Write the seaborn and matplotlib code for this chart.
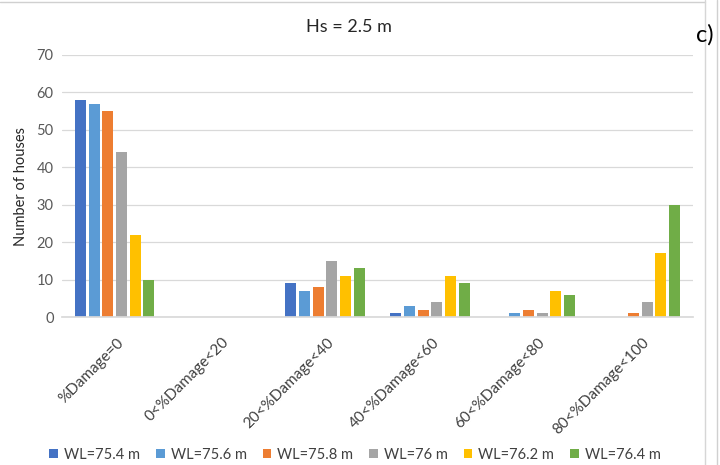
import matplotlib
matplotlib.use("Agg")
import matplotlib.pyplot as plt
import matplotlib.transforms as mtransforms
import seaborn as sns
import pandas as pd
from matplotlib.patches import Patch
from matplotlib.lines import Line2D

categories = ["%Damage=0", "0<%Damage<20", "20<%Damage<40", "40<%Damage<60",
              "60<%Damage<80", "80<%Damage<100"]
series = ["WL=75.4 m", "WL=75.6 m", "WL=75.8 m", "WL=76 m", "WL=76.2 m", "WL=76.4 m"]
wl_754 = [58, 0, 9, 1, 0, 0]
wl_756 = [57, 0, 7, 3, 1, 0]
wl_758 = [55, 0, 8, 2, 2, 1]
wl_760 = [44, 0, 15, 4, 1, 4]
wl_762 = [22, 0, 11, 11, 7, 17]
wl_764 = [10, 0, 13, 9, 6, 30]
colors = ["#4472C4", "#5B9BD5", "#ED7D31", "#A5A5A5", "#FFC000", "#70AD47"]

rows = []
for s, vals in zip(series, [wl_754, wl_756, wl_758, wl_760, wl_762, wl_764]):
    for c, v in zip(categories, vals):
        rows.append({"cat": c, "series": s, "value": v})
df = pd.DataFrame(rows)

sns.set_theme(style="white")
plt.rcParams['font.family'] = ['Lato', 'DejaVu Sans']

fig = plt.figure(figsize=(7.2, 4.65), dpi=100)
ax = fig.add_axes([62/720, 1 - 317/465, (693-62)/720, (317-55)/465])

sns.barplot(data=df, x="cat", y="value", hue="series", order=categories,
            hue_order=series, palette=colors, width=0.78, gap=0.2,
            saturation=1, ax=ax, legend=False, linewidth=0)

ax.set_ylim(0, 70)
ax.set_xlim(-0.5, 5.5)
ax.set_yticks(range(0, 71, 10))
ax.yaxis.grid(True, color="#D9D9D9", linewidth=0.9)
ax.set_axisbelow(True)
for sp in ["top", "right", "left"]:
    ax.spines[sp].set_visible(False)
ax.spines["bottom"].set_color("#D9D9D9")
ax.tick_params(axis="both", length=0, labelsize=10.5, colors="#595959", pad=6)
ax.set_xlabel("")
ax.set_ylabel("Number of houses", fontsize=10.5, color="#262626", labelpad=6)
ax.set_xticks(range(len(categories)))
ax.set_xticklabels(categories, rotation=45, ha="right", va="top",
                   rotation_mode="anchor", fontsize=11, color="#404040")
shift = mtransforms.ScaledTranslation(2/100, -10/100, fig.dpi_scale_trans)
for lab in ax.get_xticklabels():
    lab.set_transform(lab.get_transform() + shift)

fig.text(349/720, 1 - 27/465, "Hs = 2.5 m", ha="center", va="center",
         fontsize=13, color="#262626")
fig.text(705/720, 1 - 35/465, "c)", ha="center", va="center",
         fontsize=17, color="#000000")

# frame lines
fig.add_artist(Line2D([0, 705/720], [1 - 2/465, 1 - 2/465], color="#D0D0D0", lw=1,
                      transform=fig.transFigure, zorder=0))
fig.add_artist(Line2D([705/720, 705/720], [0, 1], color="#D6D6D6", lw=1,
                      transform=fig.transFigure, zorder=0))
fig.add_artist(Line2D([717/720, 717/720], [0, 1], color="#D0D0D0", lw=1,
                      transform=fig.transFigure, zorder=0))

handles = [Patch(facecolor=c, edgecolor="none") for c in colors]
fig.legend(handles, series, loc="center", bbox_to_anchor=(355/720, 1 - 455/465),
           ncol=6, frameon=False, fontsize=10.5, handlelength=0.6, handleheight=0.6,
           handletextpad=0.4, columnspacing=1.1, labelcolor="#404040")

fig.savefig("out.png", dpi=100)
